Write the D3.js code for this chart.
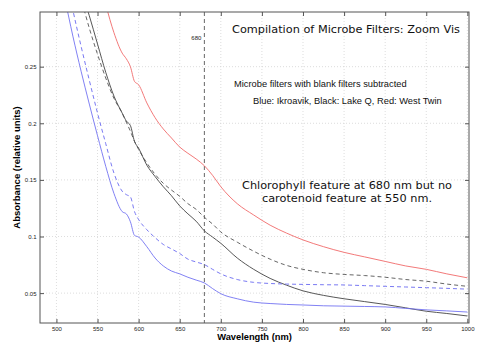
<!DOCTYPE html>
<html>
<head>
<meta charset="utf-8">
<script src="https://cdn.jsdelivr.net/npm/d3@7"></script>
<style>
  body { margin: 0; background: #fff; }
  svg { display: block; }
</style>
</head>
<body>
<div id="chart"></div>
<script>
// wavelengths (nm) shared by every series
const wavelengths = [500, 510, 520, 530, 540, 550, 560, 570, 580, 585, 590, 595, 600, 610, 620, 630, 640, 650, 660, 670, 680, 690, 700, 720, 740, 760, 780, 800, 825, 850, 875, 900, 925, 950, 975, 1000];

// Ikroavik (blue)
const blueSolid = [0.345, 0.311, 0.277, 0.246, 0.217, 0.189, 0.162, 0.138, 0.122, 0.120, 0.113, 0.101, 0.0995, 0.091, 0.081, 0.074, 0.0695, 0.067, 0.064, 0.0615, 0.059, 0.054, 0.0495, 0.045, 0.042, 0.0408, 0.040, 0.0395, 0.0388, 0.0385, 0.0382, 0.0378, 0.0365, 0.0352, 0.0343, 0.0333];
const blueDashed = [0.37, 0.335, 0.30, 0.268, 0.238, 0.209, 0.182, 0.156, 0.140, 0.137, 0.135, 0.122, 0.115, 0.106, 0.099, 0.093, 0.089, 0.085, 0.080, 0.0775, 0.0752, 0.071, 0.067, 0.062, 0.0595, 0.0585, 0.058, 0.0577, 0.0574, 0.0572, 0.0566, 0.056, 0.0554, 0.0548, 0.0542, 0.0535];

// Lake Q (black)
const blackSolid = [0.40, 0.37, 0.345, 0.318, 0.295, 0.270, 0.245, 0.224, 0.209, 0.202, 0.198, 0.184, 0.178, 0.163, 0.153, 0.144, 0.136, 0.127, 0.120, 0.1135, 0.105, 0.0995, 0.094, 0.081, 0.071, 0.063, 0.057, 0.052, 0.048, 0.045, 0.0425, 0.040, 0.037, 0.034, 0.032, 0.0298];
const blackDashed = [0.39, 0.36, 0.335, 0.31, 0.284, 0.261, 0.240, 0.222, 0.209, 0.201, 0.193, 0.184, 0.177, 0.165, 0.155, 0.147, 0.141, 0.1355, 0.129, 0.124, 0.117, 0.111, 0.104, 0.095, 0.087, 0.080, 0.0745, 0.071, 0.068, 0.0665, 0.0655, 0.064, 0.062, 0.0605, 0.058, 0.056];

// West Twin (red)
const redSolid = [0.50, 0.46, 0.43, 0.40, 0.365, 0.335, 0.305, 0.280, 0.262, 0.257, 0.250, 0.237, 0.234, 0.218, 0.205, 0.195, 0.187, 0.179, 0.1735, 0.1685, 0.1625, 0.154, 0.144, 0.129, 0.119, 0.110, 0.103, 0.097, 0.091, 0.086, 0.082, 0.078, 0.074, 0.071, 0.067, 0.0635];

const xTicks = [500, 550, 600, 650, 700, 750, 800, 850, 900, 950, 1000];
const yTicks = [0.05, 0.1, 0.15, 0.2, 0.25];
const yTickLabels = ["0.05", "0.1", "0.15", "0.2", "0.25"];
const markerWavelength = 680;

const series = [
    { values: redSolid, color: "#f06a6a", dash: null },
    { values: blackDashed, color: "#555", dash: "4,3" },
    { values: blackSolid, color: "#444", dash: null },
    { values: blueDashed, color: "#6a6af0", dash: "4,3" },
    { values: blueSolid, color: "#7373f2", dash: null }
];

const width = 484, height = 353;
const plotLeft = 40, plotRight = 469, plotTop = 12, plotBottom = 323;

const svg = d3.select("#chart").append("svg")
    .attr("width", width)
    .attr("height", height);

svg.append("rect").attr("width", width).attr("height", height).attr("fill", "#fff");

const x = d3.scaleLinear().domain([480, 1002]).range([plotLeft, plotRight]);
const y = d3.scaleLinear().domain([0.0236, 0.2983]).range([plotBottom, plotTop]);

svg.append("defs").append("clipPath").attr("id", "plotClip")
    .append("rect")
    .attr("x", plotLeft).attr("y", plotTop)
    .attr("width", plotRight - plotLeft).attr("height", plotBottom - plotTop);

// dotted grid
const grid = svg.append("g");
grid.selectAll("line.gx").data(xTicks).enter().append("line")
    .attr("x1", d => x(d)).attr("x2", d => x(d))
    .attr("y1", plotTop).attr("y2", plotBottom)
    .attr("stroke", "#d4d4d4").attr("stroke-width", 0.8)
    .attr("stroke-dasharray", "1,2");
grid.selectAll("line.gy").data(yTicks).enter().append("line")
    .attr("x1", plotLeft).attr("x2", plotRight)
    .attr("y1", d => y(d)).attr("y2", d => y(d))
    .attr("stroke", "#d4d4d4").attr("stroke-width", 0.8)
    .attr("stroke-dasharray", "1,2");

// 680 nm marker
svg.append("line")
    .attr("x1", x(markerWavelength)).attr("x2", x(markerWavelength))
    .attr("y1", plotTop).attr("y2", plotBottom)
    .attr("stroke", "#666").attr("stroke-width", 1)
    .attr("stroke-dasharray", "4,3");
svg.append("text")
    .attr("x", x(markerWavelength) - 3).attr("y", 40)
    .attr("text-anchor", "end")
    .style("font-family", "'Liberation Sans', Arial, sans-serif")
    .style("font-size", "6px")
    .attr("fill", "#222")
    .text(markerWavelength);

// curves
const line = d3.line()
    .x((d, i) => x(wavelengths[i]))
    .y(d => y(d))
    .curve(d3.curveMonotoneX);

const curves = svg.append("g").attr("clip-path", "url(#plotClip)");
series.forEach(s => {
    curves.append("path")
        .datum(s.values)
        .attr("d", line)
        .attr("fill", "none")
        .attr("stroke", s.color)
        .attr("stroke-width", 0.9)
        .attr("stroke-dasharray", s.dash);
});

// axes with inward ticks on all four sides
const tickFont = sel => sel.selectAll("text")
    .style("font-family", "'Liberation Sans', Arial, sans-serif")
    .style("font-size", "6px")
    .attr("fill", "#222");

const xAxis = svg.append("g").attr("transform", `translate(0,${plotBottom})`)
    .call(d3.axisBottom(x).tickValues(xTicks).tickSize(-4).tickPadding(4)
        .tickFormat(d3.format("d")));
const yAxis = svg.append("g").attr("transform", `translate(${plotLeft},0)`)
    .call(d3.axisLeft(y).tickValues(yTicks).tickSize(-4).tickPadding(3.5)
        .tickFormat((d, i) => yTickLabels[i]));
const xTop = svg.append("g").attr("transform", `translate(0,${plotTop})`)
    .call(d3.axisTop(x).tickValues(xTicks).tickSize(-4).tickFormat(""));
const yRight = svg.append("g").attr("transform", `translate(${plotRight},0)`)
    .call(d3.axisRight(y).tickValues(yTicks).tickSize(-4).tickFormat(""));

[xAxis, yAxis, xTop, yRight].forEach(a => {
    a.select(".domain").remove();
    a.selectAll(".tick line").attr("stroke", "#555");
    tickFont(a);
});

svg.append("rect")
    .attr("x", plotLeft).attr("y", plotTop)
    .attr("width", plotRight - plotLeft).attr("height", plotBottom - plotTop)
    .attr("fill", "none").attr("stroke", "#555").attr("stroke-width", 1);

// axis titles
svg.append("text")
    .attr("x", (plotLeft + plotRight) / 2).attr("y", 340)
    .attr("text-anchor", "middle")
    .style("font-family", "'Liberation Sans', Arial, sans-serif")
    .style("font-size", "9.3px").style("font-weight", "bold")
    .text("Wavelength (nm)");

svg.append("text")
    .attr("transform", `translate(20,${(plotTop + plotBottom) / 2}) rotate(-90)`)
    .attr("text-anchor", "middle")
    .style("font-family", "'Liberation Sans', Arial, sans-serif")
    .style("font-size", "9.5px").style("font-weight", "bold")
    .text("Absorbance (relative units)");

// title and notes
svg.append("text")
    .attr("x", 232).attr("y", 33)
    .style("font-family", "'DejaVu Sans', sans-serif")
    .style("font-size", "11.3px")
    .attr("fill", "#111")
    .text("Compilation of Microbe Filters: Zoom Vis");

const noteFont = sel => sel
    .style("font-family", "'Liberation Sans', Arial, sans-serif")
    .style("font-size", "9.3px")
    .attr("fill", "#111");

svg.append("text").attr("x", 234).attr("y", 87)
    .call(noteFont)
    .text("Microbe filters with blank filters subtracted");
svg.append("text").attr("x", 253).attr("y", 103.5)
    .call(noteFont)
    .text("Blue: Ikroavik, Black: Lake Q, Red: West Twin");

const annotation = ["Chlorophyll feature at 680 nm but no", "carotenoid feature at 550 nm."];
svg.append("g").selectAll("text").data(annotation).enter().append("text")
    .attr("x", 347).attr("y", (d, i) => 188.5 + i * 13)
    .attr("text-anchor", "middle")
    .style("font-family", "'DejaVu Sans', sans-serif")
    .style("font-size", "11.3px")
    .attr("fill", "#111")
    .text(d => d);
</script>
</body>
</html>
